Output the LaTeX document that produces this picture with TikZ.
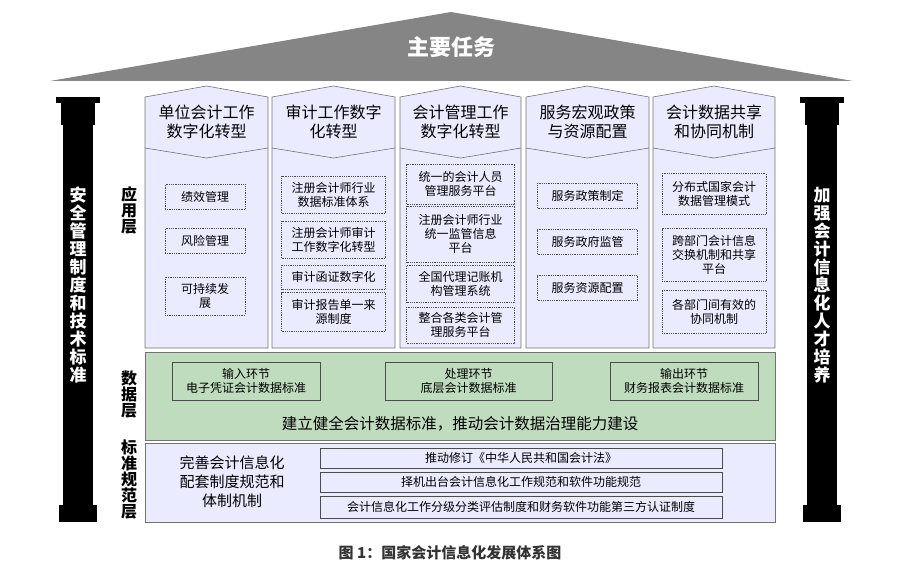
\documentclass[tikz,border=0pt]{standalone}
\usepackage{fontspec}
\setmainfont{Noto Sans CJK SC}
\begin{document}
\begin{tikzpicture}[x=1pt,y=-1pt,
  col/.style={draw=black!55,fill=blue!8!white,line width=0.6pt},
  ib/.style={draw=black!70,densely dotted,line width=0.8pt,align=center,font=\fontsize{12}{14}\selectfont,inner sep=1pt},
  hd/.style={align=center,font=\fontsize{16}{19}\selectfont},
  sb/.style={draw=black!70,line width=0.5pt,align=center,font=\fontsize{12}{14}\selectfont,inner sep=1pt},
  side/.style={align=center,font=\bfseries\fontsize{16}{16}\selectfont},
  pil/.style={align=center,text=white,font=\bfseries\fontsize{17}{18}\selectfont}]
\useasboundingbox (0,0) rectangle (903,583);
% roof
\fill[gray!80!black!80] (50,81) -- (451,12) -- (853,81) -- cycle;
\node[text=white,font=\bfseries\fontsize{22}{24}\selectfont] (title) at (451,47) {主要任务};
% pillars
\foreach \px/\nm in {78/pl,822/pr}{
  \fill[black] (\px-22,97) rectangle (\px+22,103);
  \fill[black] (\px-17,103) rectangle (\px+17,125);
  \fill[black] (\px-15,125) rectangle (\px+15,505);
  \fill[black] (\px-19,505) rectangle (\px+19,522);
}
\node[pil] (lp) at (78,285) {安\\全\\管\\理\\制\\度\\和\\技\\术\\标\\准};
\node[pil] (rp) at (822,285) {加\\强\\会\\计\\信\\息\\化\\人\\才\\培\\养};
% side labels
\node[side] (s1) at (129,210) {应\\用\\层};
\node[side] (s2) at (129,395) {数\\据\\层};
\node[side] (s3) at (129,480) {标\\准\\规\\范\\层};
% columns
\foreach \a/\b in {145/268,272/395,400/521,526/649,653/775}{
  \draw[col] (\a,97) -- ({(\a+\b)/2},86) -- (\b,97) -- (\b,348) -- (\a,348) -- cycle;
  \draw[black!55,line width=0.6pt] (\a,148) -- ({(\a+\b)/2},158) -- (\b,148);
}
\node[hd] (h1) at (206.5,122) {单位会计工作\\数字化转型};
\node[hd] (h2) at (333.5,122) {审计工作数字\\化转型};
\node[hd] (h3) at (460.5,122) {会计管理工作\\数字化转型};
\node[hd] (h4) at (587.5,122) {服务宏观政策\\与资源配置};
\node[hd] (h5) at (714,122) {会计数据共享\\和协同机制};
% col1
\node[ib,minimum width=80,minimum height=25] (a1) at (205,197) {绩效管理};
\node[ib,minimum width=80,minimum height=25] (a2) at (205,241) {风险管理};
\node[ib,minimum width=80,minimum height=38] (a3) at (205,296) {可持续发\\展};
% col2
\node[ib,minimum width=104,minimum height=37] (b1) at (333.5,195) {注册会计师行业\\数据标准体系};
\node[ib,minimum width=104,minimum height=37] (b2) at (333.5,240) {注册会计师审计\\工作数字化转型};
\node[ib,minimum width=104,minimum height=24] (b3) at (333.5,277) {审计函证数字化};
\node[ib,minimum width=104,minimum height=39] (b4) at (333.5,312) {审计报告单一来\\源制度};
% col3
\node[ib,minimum width=108,minimum height=40] (c1) at (460.5,184) {统一的会计人员\\管理服务平台};
\node[ib,minimum width=108,minimum height=56] (c2) at (460.5,234) {注册会计师行业\\统一监管信息\\平台};
\node[ib,minimum width=108,minimum height=37] (c3) at (460.5,284) {全国代理记账机\\构管理系统};
\node[ib,minimum width=108,minimum height=36] (c4) at (460.5,325) {整合各类会计管\\理服务平台};
% col4
\node[ib,minimum width=100,minimum height=25] (d1) at (587.5,196) {服务政策制定};
\node[ib,minimum width=100,minimum height=25] (d2) at (587.5,242) {服务政府监管};
\node[ib,minimum width=100,minimum height=25] (d3) at (587.5,288) {服务资源配置};
% col5
\node[ib,minimum width=104,minimum height=41] (e1) at (714,194) {分布式国家会计\\数据管理模式};
\node[ib,minimum width=104,minimum height=53] (e2) at (714,255) {跨部门会计信息\\交换机制和共享\\平台};
\node[ib,minimum width=104,minimum height=43] (e3) at (714,312) {各部门间有效的\\协同机制};
% data layer
\draw[draw=black!55,fill=green!45!black!25!white,line width=0.6pt] (145,352) rectangle (775,440);
\node[sb,minimum width=148,minimum height=38] (g1) at (246,381) {输入环节\\电子凭证会计数据标准};
\node[sb,minimum width=167,minimum height=38] (g2) at (468.5,381) {处理环节\\底层会计数据标准};
\node[sb,minimum width=148,minimum height=38] (g3) at (684,381) {输出环节\\财务报表会计数据标准};
\node[font=\fontsize{15.5}{17}\selectfont] (gt) at (460,424) {建立健全会计数据标准，推动会计数据治理能力建设};
% standards layer
\draw[draw=black!55,fill=blue!8!white,line width=0.6pt] (145,443) rectangle (775,522);
\node[align=center,font=\fontsize{15}{19}\selectfont] (st) at (232,482) {完善会计信息化\\配套制度规范和\\体制机制};
\node[sb,minimum width=402,minimum height=20] (t1) at (521,458) {推动修订《中华人民共和国会计法》};
\node[sb,minimum width=402,minimum height=20] (t2) at (521,482) {择机出台会计信息化工作规范和软件功能规范};
\node[sb,minimum width=402,minimum height=22] (t3) at (521,507) {会计信息化工作分级分类评估制度和财务软件功能第三方认证制度};
% caption
\node[text=black!80,font=\bfseries\fontsize{15}{17}\selectfont] (cap) at (450,553) {图 1：国家会计信息化发展体系图};
\end{tikzpicture}
\end{document}
